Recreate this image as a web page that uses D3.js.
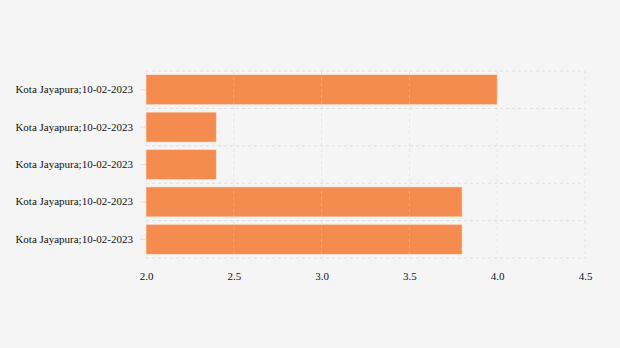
<!DOCTYPE html>
<html><head><meta charset="utf-8">
<script src="https://cdn.jsdelivr.net/npm/d3@7"></script>
<style>body{margin:0;background:#f5f5f5;}svg{display:block;}</style>
</head><body>
<svg id="c" width="620" height="348"></svg>
<script>
const categories = ["Kota Jayapura;10-02-2023","Kota Jayapura;10-02-2023","Kota Jayapura;10-02-2023","Kota Jayapura;10-02-2023","Kota Jayapura;10-02-2023"];
const values = [4.0, 2.4, 2.4, 3.8, 3.8];
const xTicks = [2.0, 2.5, 3.0, 3.5, 4.0, 4.5];

const svg = d3.select("#c");
svg.append("rect").attr("width",620).attr("height",348).attr("fill","#f5f5f5");
const m = {l:146, r:35, t:71, b:90};
const W = 620 - m.l - m.r, H = 348 - m.t - m.b;
const g = svg.append("g").attr("transform",`translate(${m.l},${m.t})`);
const idx = d3.range(values.length);
const x = d3.scaleLinear().domain([2.0,4.5]).range([0,W]);
const y = d3.scaleBand().domain(idx).range([0,H]).paddingInner(0.2).paddingOuter(0.1);
const step = H/values.length;

// grid (under)
const grid = g.append("g").attr("stroke","#dddddd").attr("stroke-dasharray","3,3").attr("stroke-width",1).attr("fill","none");
xTicks.forEach(t=>grid.append("line").attr("x1",x(t)).attr("x2",x(t)).attr("y1",0).attr("y2",H));
d3.range(values.length+1).forEach(i=>grid.append("line").attr("x1",0).attr("x2",W).attr("y1",i*step).attr("y2",i*step));

// bars
g.selectAll("rect.bar").data(values).enter().append("rect")
  .attr("x",x(2.0)).attr("y",(d,i)=>y(i))
  .attr("width",d=>x(d)-x(2.0)).attr("height",y.bandwidth())
  .attr("fill","#f48c4f").attr("stroke","#fbe3d4").attr("stroke-width",0.6);

// faint vertical grid over bars
const gridTop = g.append("g").attr("stroke","#ffffff").attr("stroke-opacity",0.25).attr("stroke-dasharray","3,3").attr("stroke-width",1);
xTicks.forEach(t=>gridTop.append("line").attr("x1",x(t)).attr("x2",x(t)).attr("y1",0).attr("y2",H));

// y axis
const yAx = d3.axisLeft(y).tickSize(6).tickPadding(7).tickFormat(i=>categories[i]);
const ya = g.append("g").call(yAx);
ya.select(".domain").remove();
ya.selectAll("line").attr("stroke","#dddddd");
ya.selectAll("text").attr("font-family","'Liberation Serif', serif").attr("font-size","11px").attr("fill","#111");

// x axis
const xAx = d3.axisBottom(x).tickValues(xTicks).tickSize(0).tickPadding(14).tickFormat(d3.format(".1f"));
const xa = g.append("g").attr("transform",`translate(0,${H})`).call(xAx);
xa.select(".domain").remove();
xa.selectAll("text").attr("font-family","'Liberation Serif', serif").attr("font-size","11px").attr("fill","#111");
</script>
</body></html>
